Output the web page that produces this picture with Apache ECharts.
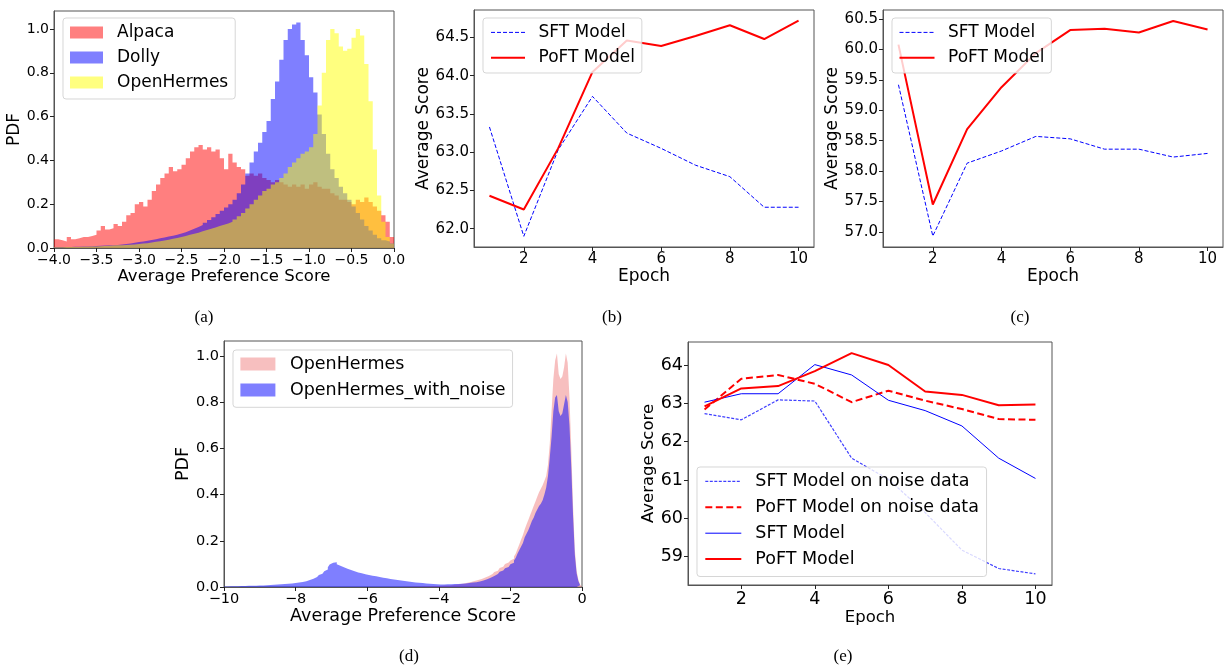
<!DOCTYPE html>
<html><head><meta charset="utf-8">
<script src="https://cdn.jsdelivr.net/npm/echarts@6/dist/echarts.min.js"></script>
<style>html,body{margin:0;padding:0;background:#fff}#c{width:1225px;height:667px}</style>
</head><body><div id="c"></div>
<script>
// ---------- DATA ----------
// Panel (a): histograms, bins of 0.05 starting at -4.0
const aBinStart = -4.0, aBinWidth = 0.05;
const alpacaPDF = [
 0.04,0.035,0.03,0.05,0.04,0.045,0.05,0.05,0.055,0.06,
 0.08,0.10,0.085,0.09,0.11,0.10,0.12,0.15,0.16,0.20,
 0.21,0.19,0.22,0.26,0.29,0.32,0.34,0.37,0.35,0.36,
 0.38,0.41,0.44,0.46,0.47,0.45,0.46,0.44,0.45,0.41,
 0.36,0.43,0.39,0.37,0.36,0.33,0.34,0.33,0.34,0.32,
 0.31,0.30,0.31,0.30,0.29,0.28,0.29,0.28,0.29,0.27,
 0.29,0.30,0.28,0.27,0.27,0.25,0.24,0.22,0.22,0.21,
 0.20,0.22,0.21,0.23,0.21,0.19,0.17,0.15,0.12,0.05];
const dollyPDF = [
 0.004,0.004,0.005,0.005,0.006,0.006,0.007,0.007,0.008,0.009,
 0.010,0.011,0.012,0.013,0.014,0.016,0.018,0.021,0.024,0.027,
 0.030,0.033,0.036,0.040,0.044,0.048,0.052,0.056,0.060,0.066,
 0.072,0.080,0.088,0.096,0.105,0.115,0.128,0.140,0.155,0.170,
 0.185,0.20,0.22,0.25,0.29,0.34,0.39,0.44,0.48,0.53,
 0.58,0.68,0.76,0.86,0.95,1.00,1.02,1.03,0.95,0.88,
 0.78,0.71,0.61,0.52,0.43,0.36,0.32,0.28,0.25,0.22,
 0.19,0.16,0.13,0.10,0.08,0.06,0.045,0.035,0.03,0.02];
const openHermesPDF = [
 0.003,0.003,0.004,0.004,0.005,0.005,0.006,0.006,0.007,0.007,
 0.008,0.009,0.010,0.011,0.012,0.013,0.014,0.015,0.016,0.018,
 0.020,0.022,0.025,0.028,0.031,0.034,0.038,0.042,0.046,0.050,
 0.055,0.060,0.065,0.070,0.076,0.082,0.088,0.094,0.100,0.106,
 0.112,0.12,0.13,0.145,0.16,0.18,0.20,0.22,0.24,0.26,
 0.27,0.29,0.30,0.32,0.34,0.37,0.39,0.41,0.43,0.44,
 0.46,0.52,0.65,0.80,0.95,1.00,0.98,0.92,0.90,0.91,
 0.96,1.00,0.97,0.84,0.67,0.45,0.24,0.12,0.05,0.02];
const aXTicks = [-4,-3.5,-3,-2.5,-2,-1.5,-1,-0.5,0];
const aYTicks = [0,0.2,0.4,0.6,0.8,1.0];

// Panels (b), (c): average score per epoch
const epochs = [1,2,3,4,5,6,7,8,9,10];
const bSFT  = [63.33,61.90,63.03,63.73,63.25,63.05,62.83,62.68,62.28,62.28];
const bPoFT = [62.43,62.25,63.05,64.05,64.46,64.39,64.52,64.66,64.48,64.72];
const cSFT  = [59.42,56.93,58.13,58.33,58.57,58.53,58.36,58.36,58.23,58.29];
const cPoFT = [60.08,57.45,58.69,59.38,59.94,60.32,60.34,60.28,60.47,60.33];
const epochTicks = [2,4,6,8,10];
const bYTicks = [62.0,62.5,63.0,63.5,64.0,64.5];
const cYTicks = [57.0,57.5,58.0,58.5,59.0,59.5,60.0,60.5];

// Panel (d): histograms, bins of 0.05
const dHermesStart = -5.0, dNoiseStart = -10.0, dBinWidth = 0.05;
const dOpenHermes = [
 0.001,0.001,0.001,0.001,0.001,0.002,0.002,0.002,0.002,0.002,0.003,0.003,0.003,0.003,0.003,0.004,0.004,0.004,0.004,0.004,
 0.005,0.005,0.006,0.006,0.007,0.007,0.008,0.009,0.010,0.011,0.012,0.013,0.014,0.015,0.016,0.018,0.020,0.022,0.024,0.026,
 0.028,0.030,0.032,0.035,0.038,0.041,0.044,0.048,0.052,0.056,0.060,0.065,0.070,0.076,0.082,0.088,0.094,0.100,0.106,0.110,
 0.115,0.122,0.132,0.145,0.165,0.185,0.205,0.225,0.25,0.27,0.29,0.31,0.33,0.35,0.37,0.39,0.41,0.425,0.44,0.46,
 0.48,0.53,0.62,0.76,0.90,0.98,1.01,0.92,0.90,0.91,0.95,1.01,0.97,0.82,0.60,0.35,0.16,0.07,0.03,0.01];
const dOpenHermesNoise = [
 0.002,0.002,0.002,0.003,0.003,0.003,0.003,0.003,0.004,0.004,0.004,0.004,0.004,0.005,0.005,0.005,0.005,0.005,0.006,0.006,
 0.006,0.007,0.007,0.008,0.008,0.009,0.009,0.010,0.010,0.011,0.011,0.012,0.012,0.013,0.013,0.014,0.015,0.015,0.016,0.017,
 0.018,0.019,0.020,0.022,0.023,0.025,0.027,0.030,0.033,0.036,0.040,0.043,0.047,0.052,0.057,0.062,0.068,0.076,0.085,0.097,
 0.105,0.110,0.107,0.098,0.092,0.088,0.085,0.082,0.079,0.076,0.074,0.071,0.068,0.066,0.063,0.061,0.059,0.057,0.055,0.053,
 0.052,0.050,0.049,0.047,0.046,0.044,0.043,0.042,0.040,0.039,0.038,0.036,0.035,0.034,0.032,0.031,0.030,0.029,0.028,0.027,
 0.026,0.025,0.024,0.023,0.022,0.021,0.020,0.019,0.018,0.018,0.017,0.016,0.015,0.015,0.014,0.014,0.013,0.013,0.012,0.012,
 0.011,0.011,0.011,0.011,0.012,0.012,0.012,0.012,0.013,0.013,0.013,0.014,0.014,0.015,0.015,0.016,0.017,0.018,0.019,0.020,
 0.021,0.022,0.024,0.026,0.028,0.031,0.034,0.037,0.040,0.044,0.048,0.052,0.056,0.061,0.066,0.071,0.076,0.081,0.087,0.093,
 0.098,0.105,0.115,0.127,0.145,0.160,0.175,0.190,0.215,0.230,0.245,0.265,0.285,0.300,0.320,0.335,0.350,0.360,0.375,0.400,
 0.43,0.48,0.56,0.65,0.76,0.82,0.83,0.76,0.74,0.75,0.79,0.83,0.80,0.70,0.52,0.31,0.14,0.06,0.025,0.008];
const dXTicks = [-10,-8,-6,-4,-2,0];
const dYTicks = [0,0.2,0.4,0.6,0.8,1.0];

// Panel (e)
const eSFTNoise  = [62.73,62.57,63.09,63.06,61.57,61.02,60.15,59.17,58.69,58.55];
const ePoFTNoise = [62.84,63.64,63.74,63.51,63.03,63.33,63.07,62.85,62.59,62.57];
const eSFT       = [63.03,63.25,63.25,64.01,63.74,63.08,62.81,62.41,61.57,61.04];
const ePoFT      = [62.92,63.39,63.45,63.84,64.31,64.00,63.31,63.22,62.95,62.97];
const eYTicks = [59,60,61,62,63,64];

const captions = ['(a)','(b)','(c)','(d)','(e)'];

// ---------- BUILD ----------
const FONT = 'DejaVu Sans';
const FRAME = '#555';
function sgn(v,d){ return (v < 0 ? '\u2212' : '') + Math.abs(v).toFixed(d); }
function histPts(start, w, vals){
  const pts = vals.map((v,i)=>[start + i*w, v]);
  pts.push([start + vals.length*w, vals[vals.length-1]]);
  return pts;
}
function linePts(ys){ return epochs.map((e,i)=>[e, ys[i]]); }

const grids = [
  {left:54, top:11, width:340, height:237},
  {left:474, top:10, width:340, height:237},
  {left:883, top:10, width:340, height:237},
  {left:224, top:341, width:358, height:246},
  {left:688, top:342, width:364, height:243}
].map(g => Object.assign({show:true, borderColor:FRAME, borderWidth:1, backgroundColor:'transparent', containLabel:false}, g));

function axis(gi, min, max, ticks, dec, fs, name, nameFs, nameGap){
  return {gridIndex:gi, type:'value', min, max, splitLine:{show:false},
    axisLine:{show:true, onZero:false, lineStyle:{color:FRAME}},
    axisTick:{show:true, length:4, customValues:ticks, lineStyle:{color:'#222'}},
    axisLabel:{customValues:ticks, margin:5, color:'#000', fontFamily:FONT, fontSize:fs, formatter:v=>sgn(v,dec)},
    name, nameLocation:'middle', nameGap, nameTextStyle:{fontFamily:FONT, fontSize:nameFs, color:'#000'}};
}

const xAxes = [
  axis(0,-4,0,aXTicks,1,14,'Average Preference Score',16.5,19),
  axis(1,0.55,10.45,epochTicks,0,15,'Epoch',17,19),
  axis(2,0.55,10.45,epochTicks,0,15,'Epoch',17,19),
  axis(3,-10,0,dXTicks,0,14.5,'Average Preference Score',17.5,20),
  axis(4,0.55,10.45,epochTicks,0,17.5,'Epoch',16.5,22)
];
const yAxes = [
  axis(0,0,1.082,aYTicks,1,14,'PDF',17,30),
  axis(1,61.76,64.86,bYTicks,1,15,'Average Score',17,41),
  axis(2,56.75,60.65,cYTicks,1,15,'Average Score',17,42),
  axis(3,0,1.064,dYTicks,1,14.5,'PDF',17.5,29),
  axis(4,58.26,64.60,eYTicks,0,17.5,'Average Score',16.5,29)
];

const RED='rgba(255,0,0,0.5)', BLUE='rgba(0,0,255,0.5)', YEL='rgba(255,255,0,0.5)', PINK='rgba(240,128,128,0.5)';
const styleOf = {};
function histSeries(name, gi, pts, color){
  styleOf[name] = {rect:true, color};
  return {name, type:'line', xAxisIndex:gi, yAxisIndex:gi, data:pts, step:'end', symbol:'none', showSymbol:false,
    color, lineStyle:{width:0, color}, areaStyle:{color, opacity:1}, silent:true, animation:false};
}
function lineSeries(name, gi, ys, color, width, type){
  styleOf[name] = {rect:false, color, width, type};
  return {name, type:'line', xAxisIndex:gi, yAxisIndex:gi, data:linePts(ys), symbol:'none', showSymbol:false,
    color, lineStyle:{width, color, type}, silent:true, animation:false};
}

const series = [
  histSeries('Alpaca#a',0,histPts(aBinStart,aBinWidth,alpacaPDF),RED),
  histSeries('Dolly#a',0,histPts(aBinStart,aBinWidth,dollyPDF),BLUE),
  histSeries('OpenHermes#a',0,histPts(aBinStart,aBinWidth,openHermesPDF),YEL),
  lineSeries('SFT Model#b',1,bSFT,'#0000ff',1,[4,2]),
  lineSeries('PoFT Model#b',1,bPoFT,'#ff0000',2,'solid'),
  lineSeries('SFT Model#c',2,cSFT,'#0000ff',1,[4,2]),
  lineSeries('PoFT Model#c',2,cPoFT,'#ff0000',2,'solid'),
  histSeries('OpenHermes#d',3,histPts(dHermesStart,dBinWidth,dOpenHermes),PINK),
  histSeries('OpenHermes_with_noise#d',3,histPts(dNoiseStart,dBinWidth,dOpenHermesNoise),BLUE),
  lineSeries('SFT Model on noise data#e',4,eSFTNoise,'rgba(0,0,255,0.75)',1.2,[3,1.5]),
  lineSeries('PoFT Model on noise data#e',4,ePoFTNoise,'#ff0000',2,[7,3.5]),
  lineSeries('SFT Model#e',4,eSFT,'#0000ff',1,'solid'),
  lineSeries('PoFT Model#e',4,ePoFT,'#ff0000',2,'solid')
];

function legendItem(n){
  const s = styleOf[n];
  if (s.rect) return {name:n, icon:'rect', itemStyle:{color:s.color, borderWidth:0}};
  return {name:n, itemStyle:{color:'rgba(0,0,0,0)', borderColor:'rgba(0,0,0,0)', borderWidth:0, opacity:0},
          lineStyle:{color:s.color, width:s.width, type:s.type, opacity:1}};
}
function legend(names, left, top, pad, iw, ih, gap, fs, lh, textPad){
  return {show:true, orient:'vertical', left, top, padding:pad, itemWidth:iw, itemHeight:ih, itemGap:gap,
    selectedMode:false, backgroundColor:'rgba(255,255,255,0.8)', borderColor:'rgba(204,204,204,0.8)', borderWidth:1, borderRadius:3,
    formatter:n=>n.split('#')[0],
    textStyle:{fontFamily:FONT, fontSize:fs, lineHeight:lh, color:'#000', padding:[0,0,0,textPad]},
    data:names.map(legendItem)};
}
const legends = [
  legend(['Alpaca#a','Dolly#a','OpenHermes#a'],63,18,[4.5,7,6.5,7],33,12,5,17,20,9),
  legend(['SFT Model#b','PoFT Model#b'],483,18,[4.4,7,5.3,7],34,14,5.3,17,20,8.5),
  legend(['SFT Model#c','PoFT Model#c'],892,18,[4.4,7,5.3,6.5],35,14,5.3,17,20,8.5),
  legend(['OpenHermes#d','OpenHermes_with_noise#d'],233,350,[3.5,7,6.8,7.4],35,13,5,17.5,21,9.5),
  legend(['SFT Model on noise data#e','PoFT Model on noise data#e','SFT Model#e','PoFT Model#e'],697,467,[3.9,7.6,6.9,7.3],36,14,4.9,17.5,21,9)
];

const capPos = [[204,318],[612,318],[1020,318],[409,657],[843,657]];
const graphics = captions.map((t,i)=>({type:'text', x:capPos[i][0], y:capPos[i][1],
  style:{text:t, font:'17px "Liberation Serif"', fill:'#000', align:'center', verticalAlign:'middle', textAlign:'center', textVerticalAlign:'middle'}}));

const chart = echarts.init(document.getElementById('c'), null, {renderer:'canvas'});
chart.setOption({animation:false, backgroundColor:'#fff', textStyle:{fontFamily:FONT},
  grid:grids, xAxis:xAxes, yAxis:yAxes, series, legend:legends, graphic:graphics});
</script></body></html>
